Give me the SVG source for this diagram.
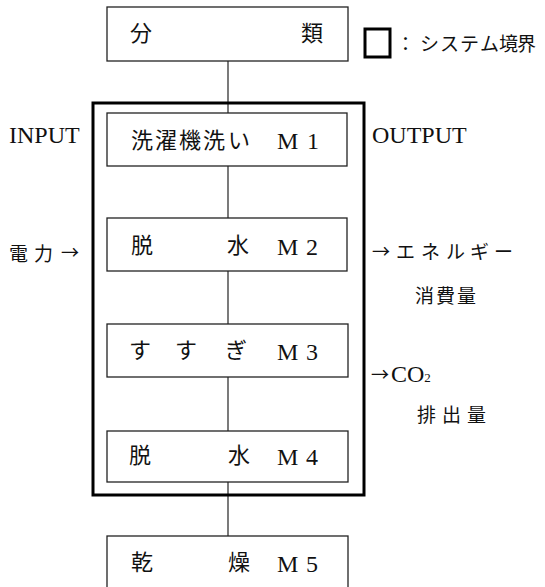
<svg xmlns="http://www.w3.org/2000/svg" width="545" height="587" viewBox="0 0 545 587">
<style>
.box{fill:#fff;stroke:#222;stroke-width:1.3}
.bound{fill:none;stroke:#000;stroke-width:3}
.ln{stroke:#222;stroke-width:1.2;fill:none}
.jp{font-family:"Noto Sans CJK JP","Noto Sans CJK SC",sans-serif;font-size:22px;fill:#111}
.jl{font-family:"Noto Sans CJK JP","Noto Sans CJK SC",sans-serif;font-size:19px;fill:#111}
.lt{font-family:"Liberation Serif","Times New Roman",serif;font-size:24px;fill:#111}
.ar{font-family:"Noto Sans CJK JP","Noto Sans CJK SC",sans-serif;font-size:18px;fill:#111}
</style>
<rect width="545" height="587" fill="#fff"/>
<g id="connectors">
<line class="ln" x1="228" y1="61" x2="228" y2="113"/>
<line class="ln" x1="228" y1="166" x2="228" y2="218"/>
<line class="ln" x1="228" y1="271" x2="228" y2="324"/>
<line class="ln" x1="228" y1="377" x2="228" y2="431"/>
<line class="ln" x1="228" y1="482" x2="228" y2="536"/>
</g>
<g id="boundary">
<rect class="bound" x="93" y="103" width="271" height="392"/>
</g>
<g id="legend">
<rect x="365" y="29" width="25" height="28" fill="none" stroke="#000" stroke-width="3"/>
<text class="jl" x="396" y="51" font-size="17">：</text>
<text class="jl" y="51" font-size="16.5"><tspan x="420">シ</tspan><tspan x="440">ス</tspan><tspan x="460">テ</tspan><tspan x="480">ム</tspan><tspan x="499">境</tspan><tspan x="517">界</tspan></text>
</g>
<g id="bunrui">
<rect class="box" x="107" y="7" width="241" height="54"/>
<text class="jp" x="130" y="41" font-size="20">分</text>
<text class="jp" x="301" y="41" font-size="20">類</text>
</g>
<g id="m1">
<rect class="box" x="107" y="113" width="240" height="53"/>
<text class="jp" y="148"><tspan x="131">洗</tspan><tspan x="155">濯</tspan><tspan x="179">機</tspan><tspan x="203">洗</tspan><tspan x="228">い</tspan></text>
<text class="lt" y="149"><tspan x="277">M</tspan><tspan x="307">1</tspan></text>
</g>
<g id="m2">
<rect class="box" x="107" y="218" width="240" height="53"/>
<text class="jp" x="131" y="253">脱</text>
<text class="jp" x="227" y="253">水</text>
<text class="lt" y="255"><tspan x="277">M</tspan><tspan x="306">2</tspan></text>
</g>
<g id="m3">
<rect class="box" x="107" y="324" width="241" height="53"/>
<text class="jp" y="358"><tspan x="129">す</tspan><tspan x="175">す</tspan><tspan x="225">ぎ</tspan></text>
<text class="lt" y="360"><tspan x="277">M</tspan><tspan x="306">3</tspan></text>
</g>
<g id="m4">
<rect class="box" x="107" y="431" width="241" height="51"/>
<text class="jp" x="129" y="463">脱</text>
<text class="jp" x="228" y="463">水</text>
<text class="lt" y="465"><tspan x="277">M</tspan><tspan x="306">4</tspan></text>
</g>
<g id="m5">
<rect class="box" x="107" y="536" width="241" height="60"/>
<text class="jp" x="131" y="570">乾</text>
<text class="jp" x="228" y="570">燥</text>
<text class="lt" y="572"><tspan x="277">M</tspan><tspan x="306">5</tspan></text>
</g>
<g id="input">
<text class="lt" x="9" y="143" font-size="24.5">INPUT</text>
<text class="jl" y="261" font-size="21"><tspan x="9">電</tspan><tspan x="34">力</tspan></text>
<text class="ar" x="61" y="259">→</text>
</g>
<g id="output">
<text class="lt" x="372" y="143">OUTPUT</text>
<text class="ar" x="372" y="258">→</text>
<text class="jl" y="259" font-size="18"><tspan x="396">エ</tspan><tspan x="421">ネ</tspan><tspan x="446">ル</tspan><tspan x="470">ギ</tspan><tspan x="494">ー</tspan></text>
<text class="jl" y="303" font-size="20"><tspan x="415">消</tspan><tspan x="436">費</tspan><tspan x="457">量</tspan></text>
<text class="ar" x="371" y="381">→</text>
<text class="lt" x="391" y="382" font-size="22">CO<tspan font-size="13">2</tspan></text>
<text class="jl" y="422" font-size="20"><tspan x="417">排</tspan><tspan x="442">出</tspan><tspan x="467">量</tspan></text>
</g>
</svg>
